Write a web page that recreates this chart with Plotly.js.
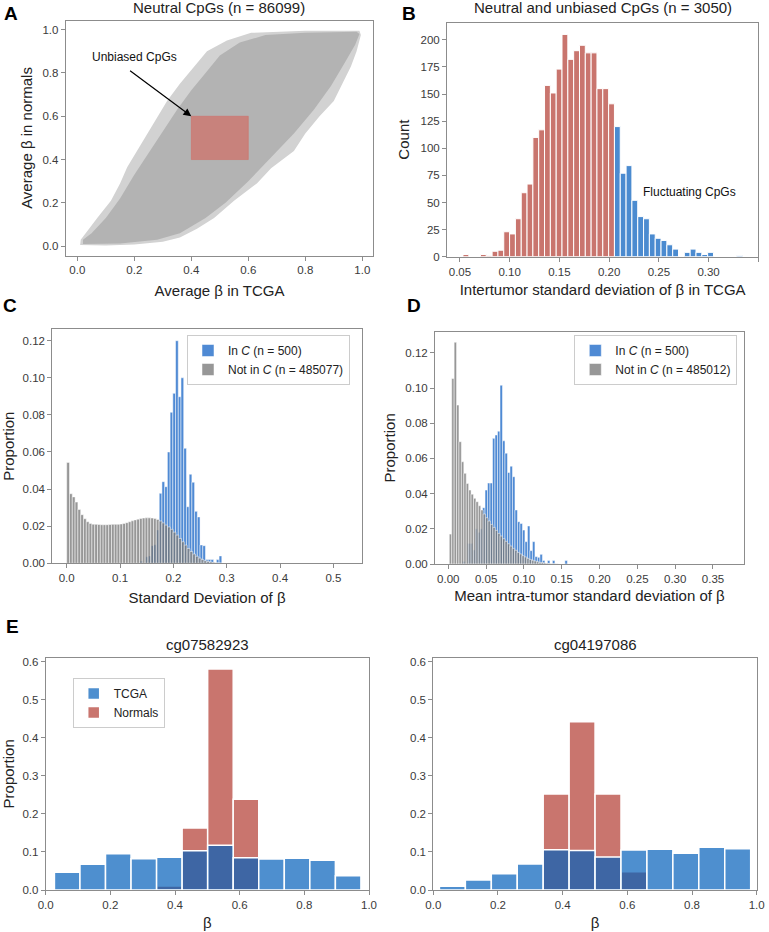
<!DOCTYPE html>
<html><head><meta charset="utf-8">
<script src="https://cdn.plot.ly/plotly-3.0.1.min.js"></script>
<style>html,body{margin:0;padding:0;background:#fff}#chart{width:769px;height:932px}</style>
</head><body><div id="chart"></div>
<script>
// ---------- Panel A: neutral CpGs cloud (outline of the point cloud)
const cloudOuterX = [0.010,0.10,0.20,0.30,0.36,0.42,0.48,0.55,0.63,0.68,0.76,0.80,0.85,0.90,0.93,0.96,0.98,0.995,0.99,0.80,0.61,0.525,0.455,0.41,0.36,0.315,0.28,0.245,0.21,0.175,0.15,0.118,0.072,0.037,0.012,0.010];
const cloudOuterY = [0.005,0.003,0.008,0.02,0.04,0.08,0.13,0.21,0.29,0.36,0.44,0.52,0.60,0.67,0.75,0.83,0.90,0.975,0.995,0.995,0.985,0.95,0.90,0.83,0.75,0.67,0.595,0.52,0.44,0.365,0.29,0.21,0.134,0.072,0.03,0.005];
const cloudCoreX = [0.02,0.15,0.28,0.36,0.45,0.52,0.60,0.68,0.76,0.83,0.89,0.94,0.975,0.99,0.98,0.80,0.66,0.57,0.50,0.45,0.40,0.35,0.30,0.25,0.20,0.15,0.10,0.05,0.02,0.02];
const cloudCoreY = [0.01,0.012,0.03,0.06,0.13,0.20,0.30,0.41,0.52,0.63,0.74,0.85,0.93,0.98,0.99,0.985,0.975,0.94,0.88,0.80,0.72,0.63,0.53,0.43,0.33,0.22,0.13,0.06,0.03,0.01];
const unbiasedRange = [0.4, 0.6];

// ---------- Panel B: intertumor SD histogram
const bBinStart = 0.056, bBinWidth = 0.005857;
const bCounts = [2,0,0,2,1,5,6,23,21,35,59,67,110,117,158,151,173,205,182,190,195,188,188,155,155,141,120,77,84,52,37,35,21,17,15,11,7,0,4,7,4,2,4,0,0,0,0,1];
const bFluctThreshold = 0.205;

// ---------- Panel C: SD of beta
const cGrayStart = 0.0026, cGrayWidth = 0.00525;
const cGray = [0.0544,0.0375,0.0358,0.0330,0.0290,0.0262,0.0240,0.0224,0.0215,0.0211,
  0.0210,0.0209,0.0208,0.0208,0.0208,0.0209,0.0210,0.0210,0.0210,0.0212,
  0.0215,0.0219,0.0224,0.0229,0.0234,0.0238,0.0242,0.0244,0.0245,0.0245,
  0.0244,0.0241,0.0236,0.0228,0.0218,0.0206,0.0196,0.0183,0.0168,0.0152,
  0.0134,0.0116,0.0098,0.0080,0.0064,0.0050,0.0038,0.0028,0.0020,0.0014,
  0.0010,0.0007,0.0005,0.0003,0.0002,0.0001];
const cBlueStart = 0.1403, cBlueWidth = 0.0051;
const cBlue = [0.0012,0,0.0035,0.004,0.0095,0.010,0.018,0.0377,0.044,0.0413,0.060,0.0814,0.0916,
  0.12,0.0898,0.10,0.062,0.0305,0.048,0.0437,0.028,0.025,0.0099,0.0095,0.002,0.002,0.002,0,0.002,0.004];

// ---------- Panel D: mean intra-tumor SD
const dGrayStart = 0.0029, dGrayWidth = 0.0032;
const dGray = [0.017,0.1054,0.126,0.0903,0.0695,0.0581,0.0515,0.0458,0.042,0.0397,
  0.0373,0.0354,0.0331,0.0307,0.0284,0.0263,0.0244,0.0225,0.0208,0.0191,
  0.0174,0.0159,0.0144,0.0129,0.0115,0.0102,0.0089,0.0078,0.0066,0.0057,
  0.0047,0.0040,0.0032,0.0026,0.0021,0.0017,0.0013,0.0009,0.0008,0.0006,
  0.0004,0.0003,0.0002,0.0001,0.0001];
const dBlueStart = 0.0205, dBlueWidth = 0.0033;
const dBlue = [0.0015,0,0.0117,0.0117,0.008,0.020,0.018,0.020,0.032,0.042,0.046,0.046,0.0714,0.0733,0.0755,
  0.1016,0.070,0.063,0.052,0.0556,0.0496,0.0307,0.024,0.023,0.0193,0.0127,0.0216,0.0076,0.0127,0.0042,0.0038,0.0055,
  0.002,0,0.002,0,0.002,0,0,0,0,0.002];

// ---------- Panel E: two example CpGs
const e1Start = 0.027, e1Width = 0.079;
const e1Tcga = [0.0464,0.0674,0.0954,0.0823,0.0858,0.1033,0.1173,0.085,0.0814,0.0832,0.078,0.0377];
const e1Normals = [0,0,0,0,0.0105,0.163,0.58,0.238,0,0,0,0];
const e2Start = 0.019, e2Width = 0.0802;
const e2Tcga = [0.0096,0.0263,0.0429,0.0683,0.106,0.104,0.0867,0.105,0.1068,0.0963,0.112,0.1086];
const e2Normals = [0,0,0,0,0.252,0.442,0.252,0.048,0,0,0,0];

// ---------- labels
const titleA = 'Neutral CpGs (n = 86099)';
const titleB = 'Neutral and unbiased CpGs (n = 3050)';
const titleE1 = 'cg07582923', titleE2 = 'cg04197086';
const legC = ['In <i>C</i> (n = 500)', 'Not in <i>C</i> (n = 485077)'];
const legD = ['In <i>C</i> (n = 500)', 'Not in <i>C</i> (n = 485012)'];
const legE = ['TCGA', 'Normals'];

// ---------- helpers / styles
const W = 769, H = 932;
const FONT = '"Liberation Sans", Arial, Helvetica, sans-serif';
const centers = (start, w, n, edge) => Array.from({length: n}, (_, i) => start + (edge ? w / 2 : 0) + i * w);
const dx = (a, b) => [a / W, b / W];
const dy = (top, bottom) => [1 - bottom / H, 1 - top / H];

const RED = '#c9756e', BLUE = '#4b8bd0';
const BLUE_T = 'rgba(3,95,187,0.70)';
const CBLUE = 'rgba(40,112,202,0.82)', CGRAY = 'rgba(118,118,118,0.76)';

function ax(o) {
  const base = {
    showline: true, mirror: true, linecolor: '#8c8c8c', linewidth: 1,
    ticks: 'outside', ticklen: 4, tickwidth: 1, tickcolor: '#8c8c8c',
    showgrid: false, zeroline: false, fixedrange: true,
    tickfont: {family: FONT, size: 11.5, color: '#3a3a3a'}
  };
  const t = o.title || {};
  delete o.title;
  return Object.assign(base, o, {title: {text: t.text || '', standoff: t.standoff, font: {family: FONT, size: 15, color: '#222'}}});
}

const data = [];
// A
data.push({type: 'scatter', mode: 'lines', x: cloudOuterX, y: cloudOuterY, fill: 'toself', fillcolor: '#d2d2d2',
  line: {width: 0, color: 'rgba(0,0,0,0)'}, xaxis: 'x', yaxis: 'y', showlegend: false, hoverinfo: 'skip'});
data.push({type: 'scatter', mode: 'lines', x: cloudCoreX, y: cloudCoreY, fill: 'toself', fillcolor: '#b3b3b3',
  line: {width: 0, color: 'rgba(0,0,0,0)'}, xaxis: 'x', yaxis: 'y', showlegend: false, hoverinfo: 'skip'});
// B
const bX = centers(bBinStart, bBinWidth, bCounts.length);
data.push({type: 'bar', x: bX, y: bCounts, width: bBinWidth, xaxis: 'x2', yaxis: 'y2', showlegend: false,
  marker: {color: bX.map(v => v < bFluctThreshold ? RED : BLUE), line: {color: '#ffffff', width: 1}}});
// C
data.push({type: 'bar', name: legC[0], x: centers(cBlueStart, cBlueWidth, cBlue.length), y: cBlue, width: cBlueWidth,
  xaxis: 'x3', yaxis: 'y3', legend: 'legend', marker: {color: CBLUE, line: {color: '#ffffff', width: 0.5}}});
data.push({type: 'bar', name: legC[1], x: centers(cGrayStart, cGrayWidth, cGray.length), y: cGray, width: cGrayWidth,
  xaxis: 'x3', yaxis: 'y3', legend: 'legend', marker: {color: CGRAY, line: {color: '#ffffff', width: 0.5}}});
// D
data.push({type: 'bar', name: legD[0], x: centers(dBlueStart, dBlueWidth, dBlue.length), y: dBlue, width: dBlueWidth,
  xaxis: 'x4', yaxis: 'y4', legend: 'legend2', marker: {color: CBLUE, line: {color: '#ffffff', width: 0.5}}});
data.push({type: 'bar', name: legD[1], x: centers(dGrayStart, dGrayWidth, dGray.length), y: dGray, width: dGrayWidth,
  xaxis: 'x4', yaxis: 'y4', legend: 'legend2', marker: {color: CGRAY, line: {color: '#ffffff', width: 0.5}}});
// E1
data.push({type: 'bar', name: legE[1], legendrank: 2, x: centers(e1Start, e1Width, e1Normals.length, true), y: e1Normals, width: e1Width,
  xaxis: 'x5', yaxis: 'y5', legend: 'legend3', marker: {color: RED, line: {color: '#ffffff', width: 1.5}}});
data.push({type: 'bar', name: legE[0], legendrank: 1, x: centers(e1Start, e1Width, e1Tcga.length, true), y: e1Tcga, width: e1Width,
  xaxis: 'x5', yaxis: 'y5', legend: 'legend3', marker: {color: BLUE_T, line: {color: '#ffffff', width: 1.5}}});
// E2
data.push({type: 'bar', name: legE[1], x: centers(e2Start, e2Width, e2Normals.length, true), y: e2Normals, width: e2Width,
  xaxis: 'x6', yaxis: 'y6', showlegend: false, marker: {color: RED, line: {color: '#ffffff', width: 1.5}}});
data.push({type: 'bar', name: legE[0], x: centers(e2Start, e2Width, e2Tcga.length, true), y: e2Tcga, width: e2Width,
  xaxis: 'x6', yaxis: 'y6', showlegend: false, marker: {color: BLUE_T, line: {color: '#ffffff', width: 1.5}}});

const letter = (t, px, py) => ({text: '<b>' + t + '</b>', xref: 'paper', yref: 'paper', x: px / W, y: 1 - py / H,
  xanchor: 'center', yanchor: 'middle', showarrow: false, font: {family: FONT, size: 19, color: '#000'}});
const ttl = (t, px, py) => ({text: t, xref: 'paper', yref: 'paper', x: px / W, y: 1 - py / H,
  xanchor: 'center', yanchor: 'middle', showarrow: false, font: {family: FONT, size: 15, color: '#222'}});

const legendStyle = (x, y, xa) => ({x: x, y: y, xanchor: xa, yanchor: 'top', xref: 'paper', yref: 'paper',
  bgcolor: 'rgba(255,255,255,0.9)', bordercolor: '#cccccc', borderwidth: 1,
  font: {family: FONT, size: 12, color: '#222'}, tracegroupgap: 0, itemwidth: 30});

const layout = {
  width: W, height: H, margin: {l: 0, r: 0, t: 0, b: 0},
  paper_bgcolor: '#fff', plot_bgcolor: '#fff', barmode: 'overlay', bargap: 0,
  showlegend: true,
  xaxis: ax({domain: dx(65.7, 373.3), anchor: 'y', range: [-0.0407, 1.0386], tick0: 0, dtick: 0.2, tickformat: '.1f',
    title: {text: 'Average β in TCGA', standoff: 10}}),
  yaxis: ax({domain: dy(20.5, 255.5), anchor: 'x', range: [-0.043, 1.042], tick0: 0, dtick: 0.2, tickformat: '.1f',
    title: {text: 'Average β in normals', standoff: 6}}),
  xaxis2: ax({domain: dx(447, 758.3), anchor: 'y2', range: [0.037, 0.35], tick0: 0.05, dtick: 0.05, tickformat: '.2f',
    title: {text: 'Intertumor standard deviation of β in TCGA', standoff: 7}}),
  yaxis2: ax({domain: dy(22.5, 256.7), anchor: 'x2', range: [0, 216], tick0: 0, dtick: 25,
    title: {text: 'Count', standoff: 7}}),
  xaxis3: ax({domain: dx(52.3, 361.7), anchor: 'y3', range: [-0.027, 0.553], tick0: 0, dtick: 0.1, tickformat: '.1f',
    title: {text: 'Standard Deviation of β', standoff: 9}}),
  yaxis3: ax({domain: dy(329, 563.3), anchor: 'x3', range: [0, 0.1263], tick0: 0, dtick: 0.02, tickformat: '.2f',
    title: {text: 'Proportion', standoff: 7}}),
  xaxis4: ax({domain: dx(435, 744), anchor: 'y4', range: [-0.0176, 0.391], tick0: 0, dtick: 0.05, tickformat: '.2f',
    title: {text: 'Mean intra-tumor standard deviation of β', standoff: 6}}),
  yaxis4: ax({domain: dy(331.7, 564), anchor: 'x4', range: [0, 0.132], tick0: 0, dtick: 0.02, tickformat: '.2f',
    title: {text: 'Proportion', standoff: 6}}),
  xaxis5: ax({domain: dx(45.7, 369), anchor: 'y5', range: [0, 1], tick0: 0, dtick: 0.2, tickformat: '.1f',
    title: {text: 'β', standoff: 7}}),
  yaxis5: ax({domain: dy(657.7, 890), anchor: 'x5', range: [0, 0.61], tick0: 0, dtick: 0.1, tickformat: '.1f',
    title: {text: 'Proportion', standoff: 8}}),
  xaxis6: ax({domain: dx(433.3, 756.7), anchor: 'y6', range: [0, 1], tick0: 0, dtick: 0.2, tickformat: '.1f',
    title: {text: 'β', standoff: 7}}),
  yaxis6: ax({domain: dy(657.7, 890), anchor: 'x6', range: [0, 0.61], tick0: 0, dtick: 0.1, tickformat: '.1f'}),
  legend: legendStyle(350 / W, 1 - 335 / H, 'right'),
  legend2: legendStyle(737.3 / W, 1 - 335 / H, 'right'),
  legend3: legendStyle(72.7 / W, 1 - 678 / H, 'left'),
  shapes: [{type: 'rect', xref: 'x', yref: 'y', x0: unbiasedRange[0], x1: unbiasedRange[1], y0: unbiasedRange[0], y1: unbiasedRange[1],
    fillcolor: 'rgba(214,96,86,0.6)', line: {width: 0.6, color: 'rgba(214,96,86,0.7)'}, layer: 'above'}],
  annotations: [
    letter('A', 11, 14), letter('B', 409, 14), letter('C', 10, 305), letter('D', 414, 305), letter('E', 12.5, 626.5),
    ttl(titleA, 219.5, 8), ttl(titleB, 603, 8), ttl(titleE1, 207.5, 644), ttl(titleE2, 595, 644),
    {text: 'Unbiased CpGs', xref: 'x', yref: 'y', x: 0.2, y: 0.875, showarrow: false,
      font: {family: FONT, size: 12, color: '#111'}},
    {text: '', xref: 'x', yref: 'y', x: 0.40, y: 0.60, axref: 'x', ayref: 'y', ax: 0.18, ay: 0.815,
      showarrow: true, arrowhead: 2, arrowsize: 1.3, arrowwidth: 1.2, arrowcolor: '#000'},
    {text: 'Fluctuating CpGs', xref: 'x2', yref: 'y2', x: 0.281, y: 60, showarrow: false,
      font: {family: FONT, size: 12, color: '#111'}}
  ]
};

Plotly.newPlot('chart', data, layout, {staticPlot: true, displayModeBar: false});
</script></body></html>
